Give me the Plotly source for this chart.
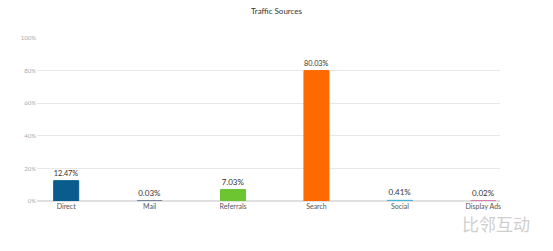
import plotly.graph_objects as go

categories = ["Direct", "Mail", "Referrals", "Search", "Social", "Display Ads"]
values = [12.47, 0.03, 7.03, 80.03, 0.41, 0.02]
labels = ["12.47%", "0.03%", "7.03%", "80.03%", "0.41%", "0.02%"]
colors = ["#0b5c8e", "#5a6f86", "#6cc531", "#ff6a00", "#3fb6d9", "#d9609a"]
y_ticks = [0, 20, 40, 60, 80, 100]
y_tick_text = ["0%", "20%", "40%", "60%", "80%", "100%"]

fig = go.Figure(go.Bar(
    x=categories, y=values, text=labels, textposition="outside",
    textfont=dict(family="Lato, sans-serif", size=8, color="#333"),
    marker=dict(color=colors, line=dict(color=colors, width=1)),
    width=0.3, cliponaxis=False,
))

fig.update_layout(
    width=553, height=251,
    margin=dict(l=37, r=53, t=38, b=50),
    paper_bgcolor="white", plot_bgcolor="white",
    title=dict(text="Traffic Sources", x=0.5, xanchor="center", y=0.965, yanchor="top",
               font=dict(family="Lato, sans-serif", size=8, color="#333")),
    showlegend=False,
    xaxis=dict(range=[-0.35, 5.2], showgrid=False, showline=False, ticks="",
               tickfont=dict(family="Lato, sans-serif", size=7, color="#555")),
    yaxis=dict(range=[0, 100], tickvals=y_ticks, ticktext=y_tick_text,
               gridcolor="#e8e8e8", gridwidth=1, zeroline=True, zerolinecolor="#e0e0e0",
               showline=False, ticks="", tickfont=dict(family="Lato, sans-serif", size=6, color="#aaa")),
    annotations=[dict(text="比邻互动", x=1.07, y=-0.135, xref="paper", yref="paper",
                      xanchor="right", yanchor="middle", showarrow=False,
                      font=dict(family="Noto Sans CJK SC", size=17, color="#cfcfcf"))],
)

fig.write_html("out.html")
